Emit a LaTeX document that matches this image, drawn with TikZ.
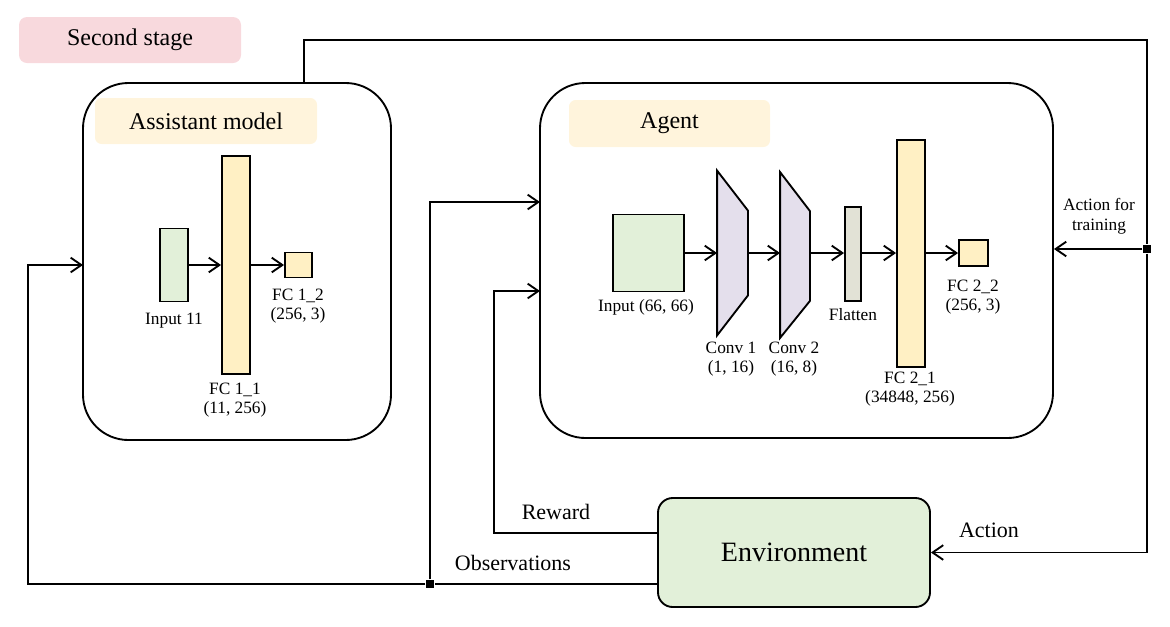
\documentclass[tikz,border=0pt]{standalone}
\usepackage{fontspec}
\setmainfont{Liberation Serif}
\usetikzlibrary{arrows.meta, calc}

\definecolor{stagepink}{RGB}{248,217,221}
\definecolor{titleyellow}{RGB}{255,244,220}
\definecolor{inputgreen}{RGB}{226,240,217}
\definecolor{fcyellow}{RGB}{255,240,196}
\definecolor{convpurple}{RGB}{228,223,236}
\definecolor{flatgray}{RGB}{226,226,214}

\begin{document}
\begin{tikzpicture}[x=0.75pt, y=-0.75pt, line width=1.4pt,
            >={Straight Barb[length=8pt, width=11pt]},
            container/.style={draw, rounded corners=34pt},
            title/.style={fill=titleyellow, rounded corners=5pt, font=\fontsize{18}{21}\selectfont},
            layer/.style={draw, inner sep=0pt},
            lbl/.style={font=\fontsize{13}{14.5}\selectfont, align=center, inner sep=0pt},
            flow/.style={font=\fontsize{16.5}{19}\selectfont, inner sep=0pt},
            dot/.style={fill, rectangle, minimum size=5.5pt, inner sep=0pt},
            arrow/.style={->}]

            \useasboundingbox (0,0) rectangle (1170,626);

            % Stage tag
            \node[fill=stagepink, rounded corners=6pt, minimum width=166.5pt, minimum height=34.5pt,
                  font=\fontsize{18}{21}\selectfont] (stage) at (130,40) {Second stage};

            % Assistant model container
            \node[container, minimum width=231pt, minimum height=267.75pt] (assistant) at (237,261.5) {};
            \node[title, minimum width=166.5pt, minimum height=34.5pt] (astitle) at (206,121) {Assistant model};

            % Assistant layers
            \node[layer, fill=inputgreen, minimum width=21pt, minimum height=54.75pt] (in11) at (174,265) {};
            \node[layer, fill=fcyellow, minimum width=21pt, minimum height=163.5pt] (fc11) at (236,265) {};
            \node[layer, fill=fcyellow, minimum width=20.25pt, minimum height=18.75pt] (fc12) at (298.5,265) {};
            \draw[arrow] (in11) -- (fc11);
            \draw[arrow] (fc11) -- (fc12);
            \node[lbl] (in11lbl) at (174,321) {Input 11};
            \node[lbl] (fc11lbl) at (235,400) {FC 1\_1\\(11, 256)};
            \node[lbl] (fc12lbl) at (298,306) {FC 1\_2\\(256, 3)};

            % Agent container
            \node[container, minimum width=384.75pt, minimum height=266.25pt] (agent) at (796.5,260.5) {};
            \node[title, minimum width=150.75pt, minimum height=35.25pt] (agtitle) at (669.5,123.5) {Agent};

            % Agent layers
            \node[layer, fill=inputgreen, minimum width=53.25pt, minimum height=57.75pt] (in66) at (648.5,253) {};
            \node[minimum width=21.75pt, minimum height=122.25pt, inner sep=0pt] (conv1) at (732.5,253) {};
            \draw[fill=convpurple] (conv1.north west) -- ($(conv1.north east)+(0,40)$)
                -- ($(conv1.south east)+(0,-40)$) -- (conv1.south west) -- cycle;
            \node[minimum width=21pt, minimum height=123pt, inner sep=0pt] (conv2) at (795,255) {};
            \draw[fill=convpurple] (conv2.north west) -- ($(conv2.north east)+(0,39)$)
                -- ($(conv2.south east)+(0,-37)$) -- (conv2.south west) -- cycle;
            \node[layer, fill=flatgray, minimum width=12pt, minimum height=70.5pt] (flat) at (853,254) {};
            \node[layer, fill=fcyellow, minimum width=21pt, minimum height=170.25pt] (fc21) at (911,253.5) {};
            \node[layer, fill=fcyellow, minimum width=21.75pt, minimum height=19.5pt] (fc22) at (973.5,253) {};
            \draw[arrow] (in66) -- (conv1);
            \draw[arrow] (conv1.east |- in66) -- (conv1.east -| conv2.west);
            \draw[arrow] (conv2.east |- in66) -- (flat.west |- in66);
            \draw[arrow] (flat.east |- in66) -- (fc21.west |- in66);
            \draw[arrow] (fc21.east |- in66) -- (fc22.west |- in66);
            \node[lbl] (in66lbl) at (646,307) {Input (66, 66)};
            \node[lbl] (conv1lbl) at (731,359) {Conv 1\\(1, 16)};
            \node[lbl] (conv2lbl) at (794,359) {Conv 2\\(16, 8)};
            \node[lbl] (flatlbl) at (853,315) {Flatten};
            \node[lbl] (fc21lbl) at (910,389) {FC 2\_1\\(34848, 256)};
            \node[lbl] (fc22lbl) at (973,297) {FC 2\_2\\(256, 3)};

            % Environment
            \node[draw, fill=inputgreen, rounded corners=11pt, minimum width=204pt, minimum height=81.75pt,
                  font=\fontsize{21}{25}\selectfont] (env) at (794,552.5) {Environment};

            % Ports and junctions
            \coordinate (asout) at (304,83);
            \coordinate (asin) at (83,265);
            \coordinate (obsin) at (540,202);
            \coordinate (rewin) at (540,291);
            \coordinate (rewout) at (658,533);
            \coordinate (obsout) at (658,584);
            \node[dot] (actsplit) at (1147,249) {};
            \node[dot] (obssplit) at (430,584) {};

            % Action loop
            \draw (asout) -- ++(0,-43) -| (actsplit);
            \draw[arrow] (actsplit) |- (env.east);
            \draw[arrow] (actsplit) -- (actsplit -| agent.east);
            \node[lbl, font=\fontsize{13}{15}\selectfont] (acttrain) at (1099,216) {Action for\\training};
            \node[flow] (actlbl) at (989,530) {Action};

            % Reward and observations
            \draw[arrow] (rewout) -- ++(-164,0) |- (rewin);
            \node[flow] (rewlbl) at (556,512) {Reward};
            \draw (obsout) -- (obssplit);
            \draw[arrow] (obssplit) -- ++(-402,0) |- (asin);
            \draw[arrow] (obssplit) |- (obsin);
            \node[flow] (obslbl) at (513,563) {Observations};
\end{tikzpicture}
\end{document}
